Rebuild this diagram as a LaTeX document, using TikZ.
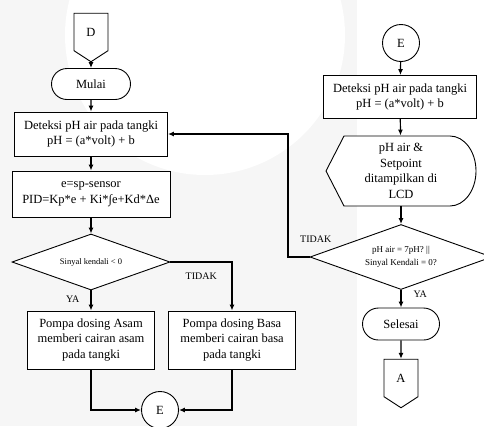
\documentclass[tikz,border=0pt]{standalone}
\usepackage{fontspec}
\setmainfont{Liberation Serif}
\usetikzlibrary{arrows.meta, shapes.geometric, shapes.misc, shapes.symbols}

\begin{document}
\begin{tikzpicture}[x=1pt,y=-1pt,line width=0.9pt,>={Latex[length=6pt,width=5pt]},
  box/.style={draw,fill=white,align=center,inner sep=1pt,font=\fontsize{12.5}{15.5}\selectfont},
  process/.style={box,rectangle},
  term/.style={box,rounded rectangle,minimum height=31},
  offpage/.style={box,signal,signal to=south,signal from=nowhere,signal pointer angle=114,minimum width=34,minimum height=41},
  conn/.style={box,circle,minimum size=37,inner sep=0},
  decision/.style={box,diamond,aspect=2.8,inner sep=0,font=\fontsize{8.5}{12}\selectfont},
  flow/.style={->,line width=1.2pt},
  lbl/.style={inner sep=0,font=\fontsize{10}{12}\selectfont}]
  \useasboundingbox (0,0) rectangle (484,426);
  \clip (0,0) rectangle (484,426);
  \fill[gray!7] (0,0) rectangle (484,426);
  \fill[white] (205,35) circle (140pt);
  \fill[white] (357,0) rectangle (484,426);

  \node (D) [offpage] at (91,32) {D};
  \node (mulai) [term,minimum width=81] at (91,84) {Mulai};
  \node (detL) [process,minimum width=153,minimum height=44] at (91,134) {Deteksi pH air pada tangki\\pH = (a*volt) + b};
  \node (pid) [process,minimum width=158,minimum height=46] at (91,194) {e=sp-sensor\\PID=Kp*e + Ki*∫e+Kd*Δe};
  \node (decL) [decision,minimum width=158,minimum height=56] at (91,262) {Sinyal kendali < 0};
  \node (asam) [process,minimum width=127,minimum height=58] at (91,340) {Pompa dosing Asam\\memberi cairan asam\\pada tangki};
  \node (basa) [process,minimum width=127,minimum height=58] at (232,340) {Pompa dosing Basa\\memberi cairan basa\\pada tangki};
  \node (eB) [conn] at (160,410) {E};

  \node (eT) [conn] at (401,43) {E};
  \node (detR) [process,minimum width=153,minimum height=43] at (400,97) {Deteksi pH air pada tangki\\pH = (a*volt) + b};
  \draw[fill=white] (326,171) -- (344,136) -- (450,136) arc[start angle=90,end angle=-90,x radius=26pt,y radius=35pt] -- (344,206) -- cycle;
  \node (disp) [align=center,inner sep=0,minimum width=150,minimum height=70,font=\fontsize{12.5}{15.5}\selectfont] at (401,171) {pH air \&\\Setpoint\\ditampilkan di\\LCD};
  \node (decR) [decision,minimum width=182,minimum height=65,font=\fontsize{9}{13}\selectfont] at (401,257) {pH air = 7pH? ||\\Sinyal Kendali = 0?};
  \node (sel) [term,minimum width=79,minimum height=32] at (401,324) {Selesai};
  \node (A) [offpage] at (401,378) {A};
  \coordinate (back) at (288,257);

  \draw[flow] (D) -- (mulai);
  \draw[flow] (mulai) -- (detL);
  \draw[flow] (detL) -- (pid);
  \draw[flow] (pid) -- (decL);
  \draw[flow] (decL) -- node[lbl,pos=0.45,left=11pt]{YA} (asam);
  \draw[flow] (decL.east) -| node[lbl,pos=0.25,below=10pt]{TIDAK} (basa);
  \draw[flow] (asam) |- (eB);
  \draw[flow] (basa) |- (eB);

  \draw[flow] (eT) -- (detR);
  \draw[flow] (detR) -- (disp);
  \draw[flow] (disp) -- (decR);
  \draw[flow] (decR) -- node[lbl,pos=0.25,right=12pt]{YA} (sel);
  \draw[flow] (sel) -- (A);
  \draw[flow] (decR.west) -- node[lbl,above=14pt,xshift=17pt]{TIDAK} (back) |- (detL);
\end{tikzpicture}
\end{document}
